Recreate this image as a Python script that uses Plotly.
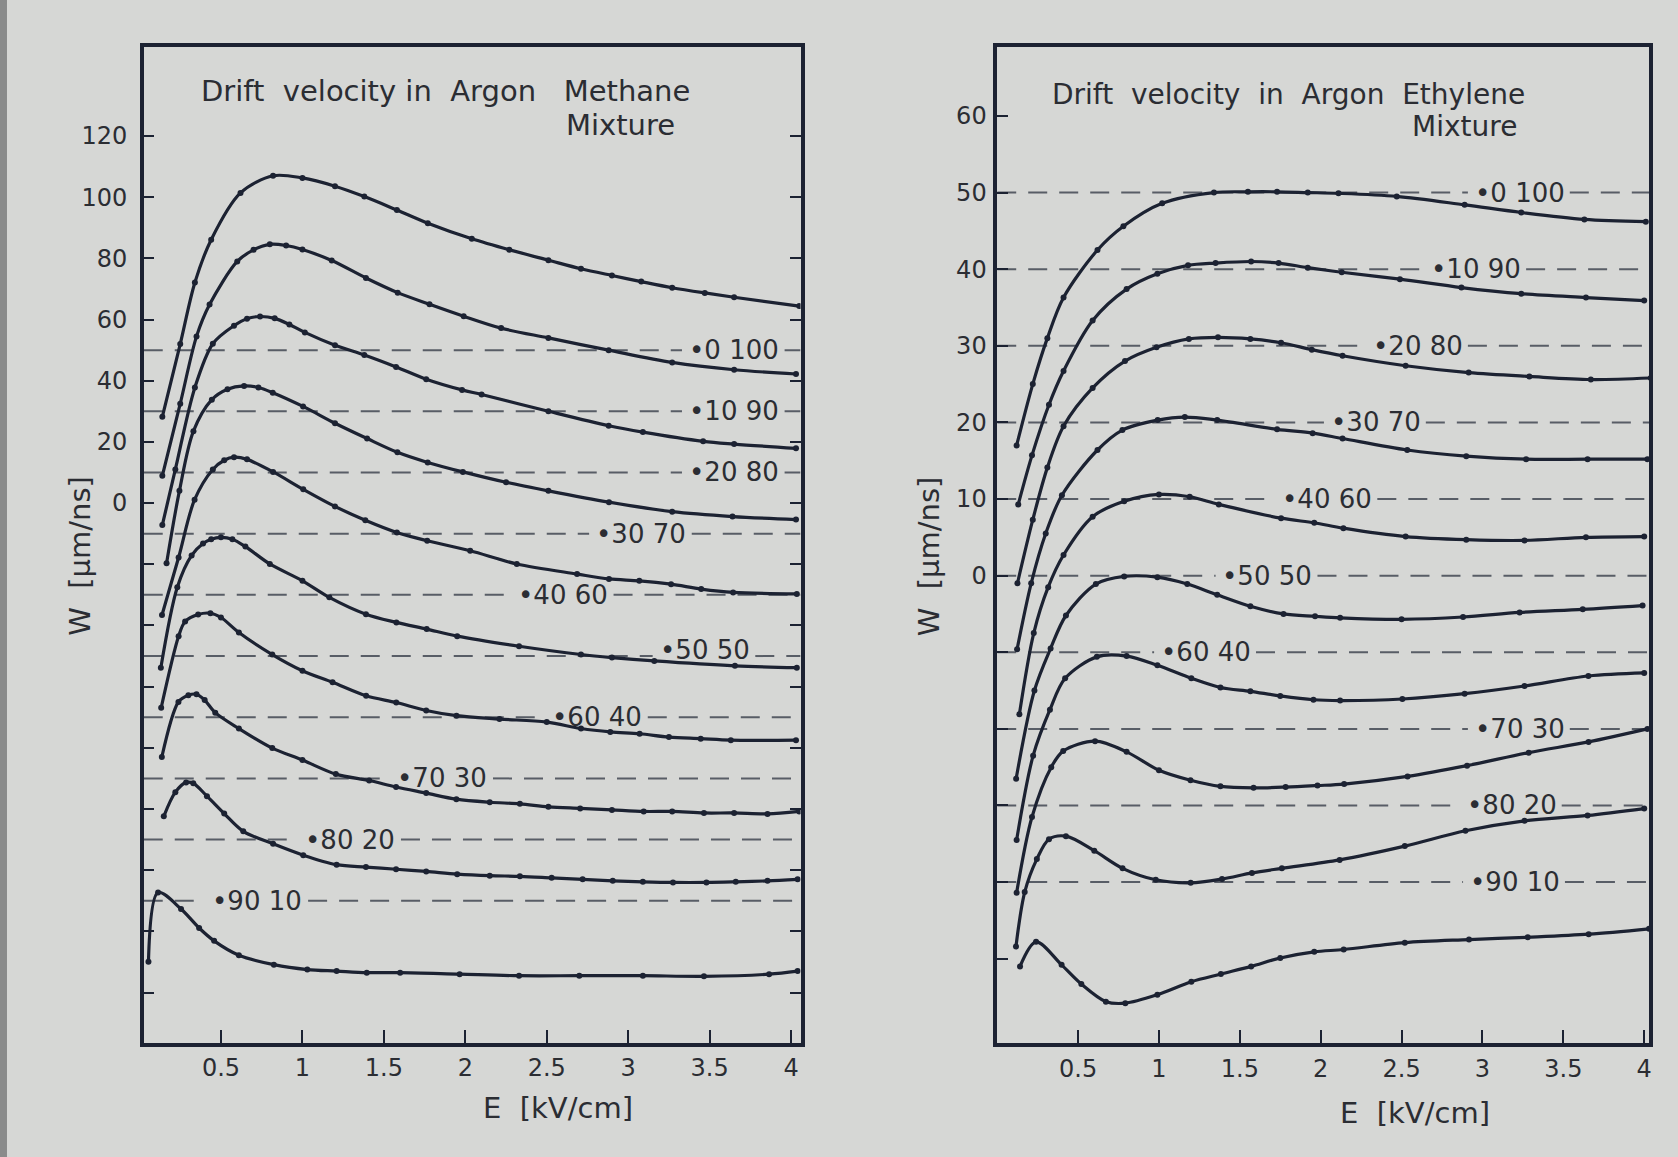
import plotly.graph_objects as go

# ------------------------------------------------------------------
# Data (true drift velocity W in um/ns vs E in kV/cm).
# Curves are displayed shifted downward by SHIFT * index, as in the original.
# ------------------------------------------------------------------
MIXTURES = ["0 100", "10 90", "20 80", "30 70", "40 60",
            "50 50", "60 40", "70 30", "80 20", "90 10"]
REF_W = 50.0          # dashed line of every curve marks W = 50 um/ns

# ---------------- Argon - Methane ----------------
CH4_SHIFT = 20.0
ch4_E_0_100 = [0.14, 0.25, 0.34, 0.44, 0.62, 0.82, 1.00, 1.20, 1.38, 1.58, 1.77, 2.04, 2.27, 2.51, 2.71, 2.90, 3.08, 3.27, 3.47, 3.65, 4.05]
ch4_W_0_100 = [28.2, 52.0, 72.1, 86.1, 101.4, 107.0, 106.3, 103.6, 100.2, 95.8, 91.5, 86.4, 82.8, 79.4, 76.6, 74.4, 72.4, 70.4, 68.7, 67.3, 64.4]
ch4_E_10_90 = [0.14, 0.25, 0.35, 0.43, 0.60, 0.70, 0.80, 0.90, 1.00, 1.18, 1.39, 1.585, 1.78, 1.99, 2.22, 2.51, 2.88, 3.27, 3.65, 4.03]
ch4_W_10_90 = [28.9, 52.5, 74.5, 84.9, 99.0, 102.8, 104.6, 104.2, 102.9, 99.3, 93.6, 88.8, 85.0, 81.1, 77.2, 74.0, 70.0, 66.0, 63.6, 62.2]
ch4_E_20_80 = [0.14, 0.22, 0.34, 0.45, 0.58, 0.66, 0.74, 0.83, 0.92, 1.015, 1.20, 1.38, 1.575, 1.76, 1.98, 2.10, 2.51, 2.88, 3.09, 3.46, 3.65, 4.03]
ch4_W_20_80 = [32.8, 51.0, 77.8, 92.1, 98.0, 100.3, 101.0, 100.4, 98.4, 95.8, 91.6, 88.4, 84.5, 80.5, 77.0, 75.5, 70.0, 65.3, 63.2, 60.2, 59.3, 57.9]
ch4_E_30_70 = [0.166, 0.245, 0.331, 0.444, 0.54, 0.642, 0.73, 0.818, 1.004, 1.20, 1.397, 1.583, 1.769, 1.985, 2.25, 2.51, 2.882, 3.27, 3.64, 4.03]
ch4_W_30_70 = [40.3, 64.0, 83.5, 93.8, 97.2, 98.3, 97.8, 96.1, 91.6, 86.1, 81.1, 76.6, 73.3, 70.2, 66.8, 64.0, 60.3, 57.2, 55.6, 54.6]
ch4_E_40_60 = [0.138, 0.24, 0.338, 0.45, 0.52, 0.58, 0.66, 0.82, 1.005, 1.20, 1.386, 1.58, 1.766, 2.03, 2.316, 2.686, 2.882, 3.068, 3.263, 3.448, 3.644, 4.035]
ch4_W_40_60 = [43.4, 62.2, 81.1, 91.0, 94.0, 95.0, 94.3, 90.2, 84.5, 78.9, 74.4, 70.4, 67.7, 64.4, 60.1, 56.8, 55.2, 54.6, 53.5, 51.9, 50.8, 50.3]
ch4_E_50_50 = [0.131, 0.232, 0.32, 0.39, 0.44, 0.50, 0.57, 0.65, 0.80, 1.00, 1.165, 1.39, 1.577, 1.763, 1.95, 2.33, 2.71, 2.90, 3.16, 3.655, 4.035]
ch4_W_50_50 = [46.2, 72.5, 82.9, 86.8, 88.2, 88.8, 88.2, 85.8, 80.1, 74.6, 69.2, 63.7, 61.0, 58.8, 56.5, 53.2, 50.5, 49.5, 48.4, 46.8, 46.2]
ch4_E_60_40 = [0.133, 0.24, 0.28, 0.36, 0.435, 0.50, 0.61, 0.815, 1.00, 1.185, 1.391, 1.576, 1.76, 1.946, 2.21, 2.50, 2.71, 2.89, 3.07, 3.25, 3.445, 3.63, 4.03]
ch4_W_60_40 = [53.1, 76.5, 81.3, 83.6, 84.0, 82.6, 77.7, 70.5, 65.2, 61.4, 57.0, 54.8, 52.2, 50.5, 49.4, 48.4, 46.3, 45.2, 44.6, 43.5, 43.0, 42.5, 42.5]
ch4_E_70_30 = [0.137, 0.239, 0.30, 0.35, 0.40, 0.465, 0.61, 0.815, 1.00, 1.205, 1.41, 1.575, 1.76, 1.945, 2.15, 2.335, 2.51, 2.705, 2.90, 3.095, 3.27, 3.465, 3.65, 3.855, 4.05]
ch4_W_70_30 = [57.0, 75.0, 77.2, 77.5, 75.6, 71.5, 66.3, 59.9, 56.0, 51.4, 49.3, 47.2, 45.2, 43.2, 42.2, 41.7, 40.7, 40.2, 39.7, 39.2, 39.2, 38.7, 38.7, 38.4, 39.2]
ch4_E_80_20 = [0.149, 0.22, 0.286, 0.33, 0.414, 0.52, 0.637, 0.82, 1.005, 1.21, 1.39, 1.575, 1.76, 1.95, 2.15, 2.335, 2.53, 2.72, 2.905, 3.09, 3.275, 3.48, 3.66, 3.855, 4.04]
ch4_W_80_20 = [57.6, 65.5, 68.7, 68.4, 64.2, 58.5, 52.7, 48.6, 44.9, 41.8, 41.0, 40.3, 39.6, 38.7, 38.2, 38.0, 37.5, 37.0, 36.5, 36.2, 36.0, 36.0, 36.2, 36.5, 37.0]
ch4_E_90_10 = [0.055, 0.114, 0.255, 0.366, 0.458, 0.61, 0.825, 1.03, 1.21, 1.395, 1.60, 1.965, 2.33, 2.70, 3.09, 3.465, 3.865, 4.04]
ch4_W_90_10 = [30.1, 52.7, 47.3, 41.1, 36.9, 32.2, 29.1, 27.5, 27.0, 26.5, 26.5, 26.0, 25.5, 25.5, 25.5, 25.3, 26.0, 27.0]

# ---------------- Argon - Ethylene ----------------
C2H4_SHIFT = 10.0
c2h4_E_0_100 = [0.12, 0.22, 0.31, 0.41, 0.62, 0.78, 1.02, 1.34, 1.55, 1.73, 1.92, 2.11, 2.47, 2.89, 3.24, 3.63, 4.01]
c2h4_W_0_100 = [17.0, 25.0, 31.0, 36.3, 42.5, 45.6, 48.6, 50.0, 50.1, 50.1, 50.0, 49.9, 49.5, 48.4, 47.4, 46.5, 46.2]
c2h4_E_10_90 = [0.13, 0.215, 0.32, 0.41, 0.59, 0.80, 0.99, 1.18, 1.35, 1.57, 1.74, 1.92, 2.13, 2.49, 2.87, 3.24, 3.64, 4.00]
c2h4_W_10_90 = [19.3, 25.7, 32.3, 36.7, 43.3, 47.4, 49.4, 50.5, 50.8, 51.0, 50.8, 50.2, 49.6, 48.7, 47.6, 46.8, 46.3, 45.9]
c2h4_E_20_80 = [0.125, 0.22, 0.31, 0.41, 0.59, 0.79, 0.985, 1.185, 1.365, 1.565, 1.755, 1.945, 2.135, 2.525, 2.915, 3.29, 3.67, 4.04]
c2h4_W_20_80 = [19.0, 27.3, 34.1, 39.5, 44.5, 48.0, 49.8, 50.9, 51.1, 50.9, 50.4, 49.5, 48.7, 47.4, 46.5, 46.0, 45.6, 45.8]
c2h4_E_30_70 = [0.123, 0.21, 0.30, 0.40, 0.62, 0.774, 0.992, 1.16, 1.36, 1.73, 1.95, 2.135, 2.535, 2.90, 3.27, 3.65, 4.02]
c2h4_W_30_70 = [20.4, 29.0, 35.5, 40.5, 46.4, 49.0, 50.3, 50.7, 50.3, 49.1, 48.6, 47.9, 46.4, 45.6, 45.2, 45.2, 45.2]
c2h4_E_40_60 = [0.137, 0.226, 0.315, 0.41, 0.59, 0.785, 1.00, 1.19, 1.37, 1.755, 1.96, 2.14, 2.525, 2.90, 3.26, 3.64, 4.00]
c2h4_W_40_60 = [21.9, 32.5, 38.5, 42.7, 47.7, 49.7, 50.6, 50.3, 49.3, 47.5, 46.9, 46.2, 45.1, 44.7, 44.6, 45.0, 45.1]
c2h4_E_50_50 = [0.117, 0.23, 0.33, 0.425, 0.61, 0.785, 0.99, 1.175, 1.36, 1.565, 1.77, 1.965, 2.12, 2.50, 2.88, 3.23, 3.62, 3.99]
c2h4_W_50_50 = [23.5, 35.0, 40.5, 44.8, 48.9, 49.9, 49.8, 48.9, 47.5, 46.0, 45.0, 44.7, 44.5, 44.3, 44.6, 45.2, 45.6, 46.1]
c2h4_E_60_40 = [0.12, 0.222, 0.326, 0.42, 0.616, 0.80, 0.99, 1.20, 1.38, 1.565, 1.75, 1.955, 2.12, 2.505, 2.89, 3.26, 3.655, 4.00]
c2h4_W_60_40 = [25.5, 36.5, 42.5, 46.6, 49.4, 49.5, 48.3, 46.6, 45.4, 44.9, 44.3, 43.8, 43.7, 43.9, 44.6, 45.6, 46.9, 47.3]
c2h4_E_70_30 = [0.12, 0.215, 0.334, 0.408, 0.605, 0.80, 1.00, 1.195, 1.38, 1.585, 1.783, 1.98, 2.145, 2.537, 2.905, 3.286, 3.656, 4.02]
c2h4_W_70_30 = [28.6, 38.5, 45.0, 47.1, 48.4, 47.0, 44.6, 43.3, 42.5, 42.3, 42.4, 42.6, 42.8, 43.8, 45.2, 46.9, 48.3, 50.0]
c2h4_E_80_20 = [0.116, 0.17, 0.245, 0.32, 0.425, 0.60, 0.775, 0.98, 1.196, 1.39, 1.575, 1.76, 2.117, 2.52, 2.895, 3.26, 3.65, 4.00]
c2h4_W_80_20 = [31.6, 38.7, 43.0, 45.6, 46.0, 44.1, 41.8, 40.3, 39.9, 40.4, 41.2, 41.8, 42.9, 44.7, 46.7, 48.0, 48.7, 49.6]
c2h4_E_90_10 = [0.141, 0.24, 0.398, 0.52, 0.672, 0.792, 0.99, 1.20, 1.383, 1.57, 1.75, 1.96, 2.142, 2.52, 2.917, 3.28, 3.657, 4.03]
c2h4_W_90_10 = [39.0, 42.2, 39.2, 36.7, 34.4, 34.2, 35.3, 37.0, 38.0, 39.0, 40.1, 40.9, 41.2, 42.1, 42.5, 42.8, 43.2, 43.9]

X_TICKS = [0.5, 1, 1.5, 2, 2.5, 3, 3.5, 4]
X_TICK_TEXT = ["0.5", "1", "1.5", "2", "2.5", "3", "3.5", "4"]
CH4_Y_TICKS = list(range(-160, 121, 20))
C2H4_Y_TICKS = list(range(-50, 61, 10))

CH4_CURVES = [
    (ch4_E_0_100, ch4_W_0_100), (ch4_E_10_90, ch4_W_10_90), (ch4_E_20_80, ch4_W_20_80),
    (ch4_E_30_70, ch4_W_30_70), (ch4_E_40_60, ch4_W_40_60), (ch4_E_50_50, ch4_W_50_50),
    (ch4_E_60_40, ch4_W_60_40), (ch4_E_70_30, ch4_W_70_30), (ch4_E_80_20, ch4_W_80_20),
    (ch4_E_90_10, ch4_W_90_10)]
C2H4_CURVES = [
    (c2h4_E_0_100, c2h4_W_0_100), (c2h4_E_10_90, c2h4_W_10_90), (c2h4_E_20_80, c2h4_W_20_80),
    (c2h4_E_30_70, c2h4_W_30_70), (c2h4_E_40_60, c2h4_W_40_60), (c2h4_E_50_50, c2h4_W_50_50),
    (c2h4_E_60_40, c2h4_W_60_40), (c2h4_E_70_30, c2h4_W_70_30), (c2h4_E_80_20, c2h4_W_80_20),
    (c2h4_E_90_10, c2h4_W_90_10)]

# label placement (E position of the leading dot) -- layout only
CH4_LABEL_E = [3.36, 3.36, 3.36, 2.79, 2.31, 3.18, 2.52, 1.57, 1.005, 0.435]
C2H4_LABEL_E = [2.94, 2.67, 2.31, 2.05, 1.75, 1.38, 1.00, 2.94, 2.89, 2.91]

# ------------------------------------------------------------------
W_PX, H_PX = 1678, 1157
PAPER = "#d6d7d5"
INK = "#1c2232"
TXT = "#2b2d33"
DASH = "#585d66"
FONT = "DejaVu Sans"

def px_x(p):
    return p / W_PX

def px_y(p):
    return 1 - p / H_PX

Y_DOM = [px_y(1043), px_y(47)]
CH4_XR = [0.026, 4.058]
C2H4_XR = [0.0, 4.03]
CH4_YR = [-176.5, 149.1]
C2H4_YR = [-61.0, 69.0]

fig = go.Figure()
shapes = []
annotations = []

def add_panel(curves, shift, label_e, xa, ya, xr):
    for k, (E, W) in enumerate(curves):
        fig.add_trace(go.Scatter(
            x=E, y=[w - shift * k for w in W], xaxis=xa, yaxis=ya,
            mode="lines+markers",
            line=dict(color=INK, width=3.2, shape="spline", smoothing=0.9),
            marker=dict(size=6, color=INK),
            showlegend=False, hoverinfo="skip"))
        yref_level = REF_W - shift * k
        e0 = label_e[k]
        # dashed reference line, interrupted by the mixture label
        for a, b in ((xr[0], e0 - 0.03), (e0 + 0.60, xr[1])):
            if b > a:
                shapes.append(dict(type="line", xref=xa, yref=ya, x0=a, x1=b,
                                   y0=yref_level, y1=yref_level, layer="below",
                                   line=dict(color=DASH, width=2, dash="19px,12px")))
        annotations.append(dict(
            x=e0, y=yref_level, xref=xa, yref=ya, xanchor="left", yanchor="middle",
            text="\u2022" + MIXTURES[k], showarrow=False,
            yshift=6 if (xa == "x" and MIXTURES[k] == "50 50") else 0,
            font=dict(family=FONT, size=26, color=TXT)))

add_panel(CH4_CURVES, CH4_SHIFT, CH4_LABEL_E, "x", "y", CH4_XR)
add_panel(C2H4_CURVES, C2H4_SHIFT, C2H4_LABEL_E, "x2", "y2", C2H4_XR)

# titles and axis names
NB = "\u00a0"
def note(text, x, y, size=29, xanchor="left", angle=0):
    annotations.append(dict(text=text, x=px_x(x), y=px_y(y), xref="paper", yref="paper",
                            xanchor=xanchor, yanchor="middle", showarrow=False,
                            textangle=angle, font=dict(family=FONT, size=size, color=TXT)))

note("Drift" + NB * 2 + "velocity" + NB + "in" + NB * 2 + "Argon" + NB * 3 + "Methane", 199, 91, size=29)
note("Mixture", 565, 125, size=29)
note("Drift" + NB * 2 + "velocity" + NB * 2 + "in" + NB * 2 + "Argon" + NB * 2 + "Ethylene", 1052, 94, size=28)
note("Mixture", 1413, 126, size=28)
note("W" + NB * 2 + "[\u00b5m/ns]", 80, 556, size=29, xanchor="center", angle=-90)
note("W" + NB * 2 + "[\u00b5m/ns]", 931, 556, size=29, xanchor="center", angle=-90)
note("E" + NB * 2 + "[kV/cm]", 559, 1108, size=29, xanchor="center")
note("E" + NB * 2 + "[kV/cm]", 1418, 1113, size=29, xanchor="center")

# darker photo edge on the far left
shapes.append(dict(type="rect", xref="paper", yref="paper", x0=0, x1=px_x(7), y0=0, y1=1,
                   fillcolor="#8a8b8b", line=dict(width=0), layer="below"))

axis_common = dict(showline=True, linecolor=INK, linewidth=3.5, showgrid=False,
                   zeroline=False, ticks="inside", tickcolor=INK, tickwidth=2,
                   tickfont=dict(family=FONT, size=24, color=TXT))

fig.update_layout(
    width=W_PX, height=H_PX, margin=dict(l=0, r=0, t=0, b=0),
    paper_bgcolor=PAPER, plot_bgcolor=PAPER,
    xaxis=dict(domain=[px_x(144), px_x(802)], range=CH4_XR, anchor="y", mirror=True,
               tickvals=X_TICKS, ticktext=X_TICK_TEXT, ticklen=13, ticklabelstandoff=0,
               **axis_common),
    yaxis=dict(domain=Y_DOM, range=CH4_YR, anchor="x", mirror="ticks",
               tickvals=CH4_Y_TICKS,
               ticktext=[str(v) if v >= 0 else "" for v in CH4_Y_TICKS],
               ticklen=11, ticklabelstandoff=8, **axis_common),
    xaxis2=dict(domain=[px_x(999), px_x(1652)], range=C2H4_XR, anchor="y2", mirror=True,
                tickvals=X_TICKS, ticktext=X_TICK_TEXT, ticklen=13, ticklabelstandoff=1,
                **axis_common),
    yaxis2=dict(domain=Y_DOM, range=C2H4_YR, anchor="x2", mirror=True,
                tickvals=C2H4_Y_TICKS,
                ticktext=[str(v) if v >= 0 else "" for v in C2H4_Y_TICKS],
                ticklen=11, ticklabelstandoff=2, **axis_common),
    shapes=shapes, annotations=annotations,
)

fig.write_html("out.html",
               config={"displayModeBar": False},
               post_script="document.body.style.margin='0px';document.body.style.padding='0px';")
